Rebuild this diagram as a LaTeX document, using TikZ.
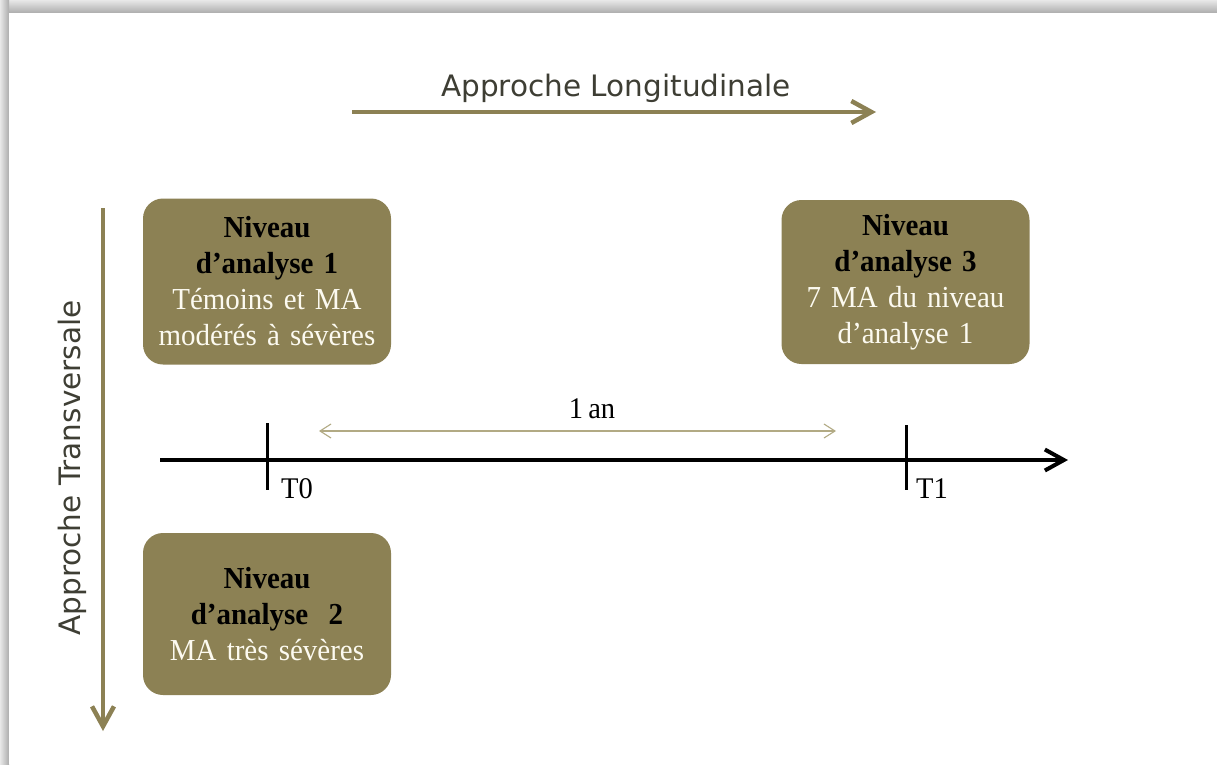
\documentclass[tikz,border=0pt]{standalone}
\usepackage{fontspec}
\setmainfont{Liberation Serif}[FakeStretch=0.95, WordSpace=0.75]
\newfontfamily\verd{DejaVu Sans}
\usetikzlibrary{arrows.meta,shadings}
\definecolor{olive}{RGB}{140,129,84}
\definecolor{lightolive}{RGB}{178,170,132}
\definecolor{titlegray}{RGB}{62,62,52}
\definecolor{boxwhite}{RGB}{252,250,240}
\tikzset{
  levelbox/.style={draw=none, fill=olive, rounded corners=20pt, minimum width=248pt,
    text width=244pt, align=center, inner sep=0pt,
    font=\fontsize{30.5}{36}\selectfont},
  approach/.style={draw=olive, line width=4.5pt, -{Straight Barb[length=20pt,width=22pt,line width=4.5pt]}},
  approachlabel/.style={font=\verd\fontsize{29.5}{34}\selectfont, text=titlegray, inner sep=0pt},
  timeline/.style={draw=black, line width=4pt, -{Straight Barb[length=19pt,width=21pt,line width=4pt]}},
  tick/.style={draw=black, line width=3pt},
  ticklabel/.style={font=\fontsize{30}{32}\selectfont, inner sep=0pt},
  duration/.style={draw=lightolive, line width=1.1pt, {Straight Barb[length=11pt,width=14pt]}-{Straight Barb[length=11pt,width=14pt]}},
}
\newcommand{\titletext}[1]{\textcolor{black}{\textbf{#1}}}
\newcommand{\bodytext}[1]{\textcolor{boxwhite}{#1}}
\begin{document}
\begin{tikzpicture}[x=1pt,y=-1pt]
\useasboundingbox (0,0) rectangle (1217,764);
% frame shadow
\shade[top color=gray!18, bottom color=gray!65] (0,0) rectangle (1217,13);
\shade[left color=gray!18, right color=gray!65] (0,0) rectangle (9,764);
\fill[white] (9,13) rectangle (1217,764);

% longitudinal approach
\coordinate (lonA) at (352,112);
\coordinate (lonB) at (876,112);
\draw[approach] (lonA) -- (lonB);
\node[approachlabel] (lonlabel) at (616,88) {Approche Longitudinale};

% transversal approach
\coordinate (traA) at (103,208);
\coordinate (traB) at (103,731);
\draw[approach] (traA) -- (traB);
\node[approachlabel, rotate=90] (tralabel) at (72,468) {Approche Transversale};

% boxes
\node[levelbox, minimum height=166pt] (n1) at (267,281.5) {\titletext{Niveau}\\\titletext{d’analyse 1}\\\bodytext{Témoins et MA}\\\bodytext{modérés à sévères}};
\node[levelbox, minimum height=164pt] (n3) at (905.5,282) {\titletext{Niveau}\\\titletext{d’analyse 3}\\\bodytext{7 MA du niveau}\\\bodytext{d’analyse 1}};
\node[levelbox, minimum height=162pt] (n2) at (267,614) {\titletext{Niveau}\\\titletext{d’analyse\ \ 2}\\\bodytext{MA très sévères}};

% timeline
\coordinate (tlA) at (160,460);
\coordinate (tlB) at (1068,460);
\draw[timeline] (tlA) -- (tlB);
\coordinate (t0top) at (267,423);
\coordinate (t0bot) at (267,490);
\coordinate (t1top) at (906,425);
\coordinate (t1bot) at (906,490);
\draw[tick] (t0top) -- (t0bot);
\draw[tick] (t1top) -- (t1bot);
\node[ticklabel, anchor=base west] (t0) at (281,498) {T0};
\node[ticklabel, anchor=base west] (t1) at (916,498) {T1};

% duration
\coordinate (dA) at (319,431);
\coordinate (dB) at (836,431);
\draw[duration] (dA) -- (dB);
\node[ticklabel, anchor=base] (dur) at (592,418) {1 an};
\end{tikzpicture}
\end{document}
